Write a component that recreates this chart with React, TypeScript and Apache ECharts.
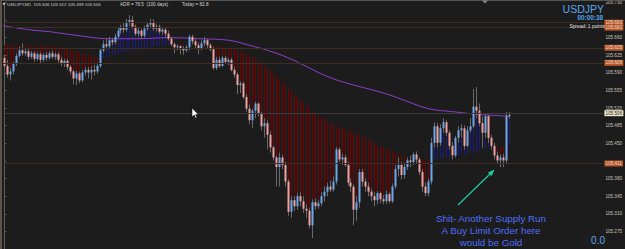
import React, { useEffect, useRef } from "react";
import * as echarts from "echarts";

// ---- M1 USDJPY bars (index 0 = oldest) ----
const opens = [
  105.620, 105.604, 105.587, 105.593, 105.608, 105.624, 105.635, 105.629, 105.633, 105.622,
  105.629, 105.618, 105.627, 105.616, 105.626, 105.620, 105.629, 105.622, 105.627, 105.616,
  105.608, 105.614, 105.602, 105.593, 105.579, 105.589, 105.575, 105.591, 105.596, 105.591,
  105.596, 105.593, 105.604, 105.635, 105.647, 105.643, 105.655, 105.651, 105.662, 105.674,
  105.680, 105.676, 105.689, 105.695, 105.682, 105.668, 105.674, 105.664, 105.678, 105.686,
  105.691, 105.678, 105.682, 105.672, 105.676, 105.668, 105.658, 105.647, 105.641, 105.643,
  105.639, 105.635, 105.641, 105.662, 105.653, 105.645, 105.639, 105.649, 105.655, 105.645,
  105.637, 105.600, 105.616, 105.604, 105.620, 105.612, 105.616, 105.596, 105.587, 105.566,
  105.569, 105.542, 105.519, 105.496, 105.515, 105.529, 105.509, 105.484, 105.490, 105.467,
  105.442, 105.422, 105.403, 105.422, 105.407, 105.374, 105.314, 105.337, 105.325, 105.345,
  105.335, 105.320, 105.316, 105.287, 105.333, 105.325, 105.331, 105.345, 105.354, 105.364,
  105.358, 105.374, 105.438, 105.418, 105.422, 105.407, 105.372, 105.364, 105.318, 105.333,
  105.393, 105.374, 105.364, 105.354, 105.345, 105.337, 105.351, 105.339, 105.335, 105.349,
  105.335, 105.364, 105.399, 105.407, 105.387, 105.403, 105.416, 105.413, 105.428, 105.418,
  105.393, 105.364, 105.351, 105.374, 105.451, 105.484, 105.451, 105.480, 105.492, 105.471,
  105.445, 105.426, 105.461, 105.476, 105.480, 105.445, 105.476, 105.484, 105.523, 105.515,
  105.490, 105.471, 105.504, 105.461, 105.445, 105.426, 105.416, 105.422, 105.416, 105.506,
];

const closes = [
  105.604, 105.587, 105.593, 105.608, 105.624, 105.635, 105.629, 105.633, 105.622, 105.629,
  105.618, 105.627, 105.616, 105.626, 105.620, 105.629, 105.622, 105.627, 105.616, 105.608,
  105.614, 105.602, 105.593, 105.579, 105.589, 105.575, 105.591, 105.596, 105.591, 105.596,
  105.593, 105.604, 105.635, 105.647, 105.643, 105.655, 105.651, 105.662, 105.674, 105.680,
  105.676, 105.689, 105.695, 105.682, 105.668, 105.674, 105.664, 105.678, 105.686, 105.691,
  105.678, 105.682, 105.672, 105.676, 105.668, 105.658, 105.647, 105.641, 105.643, 105.639,
  105.635, 105.641, 105.662, 105.653, 105.645, 105.639, 105.649, 105.655, 105.645, 105.637,
  105.600, 105.616, 105.604, 105.620, 105.612, 105.616, 105.596, 105.587, 105.566, 105.569,
  105.542, 105.519, 105.496, 105.515, 105.529, 105.509, 105.484, 105.490, 105.467, 105.442,
  105.422, 105.403, 105.422, 105.407, 105.374, 105.314, 105.337, 105.325, 105.345, 105.335,
  105.320, 105.316, 105.287, 105.333, 105.325, 105.331, 105.345, 105.354, 105.364, 105.358,
  105.374, 105.438, 105.418, 105.422, 105.407, 105.372, 105.364, 105.318, 105.333, 105.393,
  105.374, 105.364, 105.354, 105.345, 105.337, 105.351, 105.339, 105.335, 105.349, 105.335,
  105.364, 105.399, 105.407, 105.387, 105.403, 105.416, 105.413, 105.428, 105.418, 105.393,
  105.364, 105.351, 105.374, 105.451, 105.484, 105.451, 105.480, 105.492, 105.471, 105.445,
  105.426, 105.461, 105.476, 105.480, 105.445, 105.476, 105.484, 105.523, 105.515, 105.490,
  105.471, 105.504, 105.461, 105.445, 105.426, 105.416, 105.422, 105.416, 105.505, 105.506,
];

const highs = [
  105.626, 105.616, 105.600, 105.612, 105.629, 105.643, 105.649, 105.639, 105.637, 105.633,
  105.633, 105.631, 105.631, 105.629, 105.631, 105.633, 105.635, 105.631, 105.631, 105.622,
  105.618, 105.618, 105.606, 105.596, 105.595, 105.593, 105.596, 105.602, 105.602, 105.604,
  105.606, 105.610, 105.639, 105.655, 105.658, 105.662, 105.660, 105.668, 105.680, 105.686,
  105.689, 105.697, 105.705, 105.703, 105.686, 105.680, 105.678, 105.684, 105.691, 105.697,
  105.697, 105.687, 105.686, 105.680, 105.680, 105.674, 105.662, 105.651, 105.647, 105.645,
  105.643, 105.645, 105.666, 105.666, 105.657, 105.651, 105.655, 105.662, 105.658, 105.649,
  105.641, 105.622, 105.622, 105.624, 105.624, 105.620, 105.620, 105.602, 105.591, 105.573,
  105.573, 105.548, 105.527, 105.519, 105.533, 105.531, 105.513, 105.500, 105.496, 105.474,
  105.445, 105.426, 105.432, 105.428, 105.413, 105.378, 105.345, 105.345, 105.351, 105.353,
  105.345, 105.329, 105.322, 105.339, 105.341, 105.337, 105.353, 105.364, 105.372, 105.376,
  105.384, 105.443, 105.442, 105.430, 105.428, 105.413, 105.380, 105.368, 105.345, 105.399,
  105.399, 105.380, 105.372, 105.360, 105.353, 105.356, 105.354, 105.347, 105.356, 105.353,
  105.370, 105.407, 105.422, 105.413, 105.411, 105.422, 105.426, 105.432, 105.434, 105.422,
  105.399, 105.372, 105.380, 105.461, 105.492, 105.490, 105.488, 105.500, 105.496, 105.476,
  105.453, 105.465, 105.484, 105.488, 105.486, 105.484, 105.500, 105.558, 105.562, 105.529,
  105.504, 105.509, 105.507, 105.467, 105.451, 105.434, 105.428, 105.430, 105.513, 105.512,
];

const lows = [
  105.600, 105.581, 105.575, 105.587, 105.604, 105.620, 105.624, 105.624, 105.616, 105.618,
  105.612, 105.614, 105.608, 105.612, 105.614, 105.616, 105.618, 105.616, 105.610, 105.604,
  105.602, 105.596, 105.587, 105.567, 105.566, 105.569, 105.571, 105.585, 105.579, 105.577,
  105.585, 105.589, 105.600, 105.631, 105.639, 105.639, 105.645, 105.647, 105.658, 105.668,
  105.670, 105.672, 105.684, 105.678, 105.664, 105.662, 105.658, 105.660, 105.674, 105.680,
  105.674, 105.672, 105.668, 105.666, 105.662, 105.655, 105.643, 105.629, 105.635, 105.627,
  105.626, 105.631, 105.635, 105.647, 105.639, 105.627, 105.635, 105.643, 105.639, 105.633,
  105.596, 105.596, 105.600, 105.602, 105.608, 105.606, 105.593, 105.581, 105.548, 105.550,
  105.538, 105.513, 105.488, 105.480, 105.500, 105.504, 105.476, 105.461, 105.438, 105.432,
  105.416, 105.364, 105.364, 105.399, 105.364, 105.306, 105.302, 105.316, 105.318, 105.325,
  105.312, 105.302, 105.281, 105.262, 105.318, 105.320, 105.325, 105.335, 105.345, 105.353,
  105.354, 105.368, 105.413, 105.407, 105.403, 105.366, 105.354, 105.287, 105.296, 105.322,
  105.364, 105.354, 105.345, 105.335, 105.325, 105.329, 105.331, 105.329, 105.329, 105.331,
  105.331, 105.360, 105.384, 105.378, 105.380, 105.397, 105.403, 105.407, 105.411, 105.387,
  105.354, 105.345, 105.345, 105.368, 105.442, 105.442, 105.445, 105.471, 105.465, 105.438,
  105.418, 105.422, 105.451, 105.461, 105.438, 105.442, 105.471, 105.480, 105.500, 105.484,
  105.442, 105.461, 105.451, 105.438, 105.418, 105.409, 105.403, 105.403, 105.411, 105.499,
];

// fast moving average (the histogram reference line)
const fastMA = [
  105.645, 105.645, 105.645, 105.645, 105.645, 105.645, 105.645, 105.645, 105.645, 105.643,
  105.643, 105.643, 105.643, 105.643, 105.643, 105.643, 105.643, 105.641, 105.641, 105.641,
  105.639, 105.637, 105.635, 105.635, 105.633, 105.631, 105.629, 105.627, 105.626, 105.624,
  105.622, 105.620, 105.618, 105.620, 105.622, 105.624, 105.626, 105.626, 105.627, 105.629,
  105.631, 105.631, 105.633, 105.635, 105.635, 105.637, 105.637, 105.639, 105.639, 105.641,
  105.641, 105.643, 105.643, 105.643, 105.645, 105.645, 105.645, 105.645, 105.647, 105.647,
  105.647, 105.647, 105.647, 105.647, 105.647, 105.647, 105.647, 105.645, 105.645, 105.645,
  105.643, 105.643, 105.643, 105.641, 105.641, 105.639, 105.639, 105.637, 105.635, 105.633,
  105.629, 105.627, 105.624, 105.622, 105.618, 105.614, 105.610, 105.604, 105.600, 105.595,
  105.589, 105.583, 105.577, 105.571, 105.566, 105.560, 105.554, 105.548, 105.542, 105.536,
  105.531, 105.525, 105.519, 105.513, 105.509, 105.505, 105.502, 105.498, 105.494, 105.490,
  105.488, 105.484, 105.482, 105.480, 105.478, 105.474, 105.473, 105.471, 105.469, 105.467,
  105.463, 105.461, 105.457, 105.453, 105.451, 105.447, 105.445, 105.442, 105.440, 105.438,
  105.434, 105.432, 105.428, 105.426, 105.424, 105.422, 105.420, 105.420, 105.418, 105.418,
  105.418, 105.418, 105.418, 105.418, 105.418, 105.420, 105.420, 105.420, 105.422, 105.422,
  105.424, 105.426, 105.426, 105.428, 105.428, 105.430, 105.432, 105.432, 105.434, 105.436,
  105.438, 105.438, 105.440, 105.442, 105.442, 105.443, 105.443, 105.443, 105.445, 105.445,
];

// slow moving average (purple), read at these bar positions
const slowMaBars = [-0.5, 8, 15, 25, 35, 45, 55, 65, 75, 82, 88, 95, 102, 108, 115, 122, 128, 135, 142, 150, 160, 169];
const slowMaValues = [
  105.684, 105.676, 105.672, 105.664, 105.658, 105.658, 105.660, 105.658, 105.655, 105.645, 105.635,
  105.620, 105.600, 105.583, 105.569, 105.558, 105.548, 105.533, 105.519, 105.513, 105.507, 105.504,
];

// horizontal price levels (orange tags) and the current bid
const levelPrices = [105.693, 105.682, 105.635, 105.606, 105.411];
const bidPrice = 105.506;

const BLUE = "#6ea6ec";
const PINK = "#f2a0a0";
const WICK = "#6a6a6a";
const FONT = "Liberation Sans, Arial, sans-serif";

export default function App() {
  const ref = useRef<HTMLDivElement>(null);

  useEffect(() => {
    if (!ref.current) return;
    const chart = echarts.init(ref.current, null, { renderer: "svg" });

    const candleData = opens.map((o, i) => [i, o, closes[i], lows[i], highs[i]]);
    const histData = closes.map((c, i) => [i, c, fastMA[i]]);
    const slowData = slowMaBars.map((b, i) => [b, slowMaValues[i]]);
    const last = opens.length - 1;
    const tagged = [...levelPrices, bidPrice];

    const levelLine = (v: number) => ({
      yAxis: v,
      lineStyle: { color: "#3e2e23", width: 1, type: "solid" },
      label: {
        show: true,
        position: "end",
        distance: 1,
        formatter: v.toFixed(3),
        backgroundColor: "#b5562a",
        color: "#f3dccb",
        fontSize: 4.6,
        fontFamily: FONT,
        padding: [0.6, 1.2, 0.4, 1.2],
      },
    });

    const option: any = {
      animation: false,
      backgroundColor: "#1c1c1c",
      grid: { left: 3, right: 19, top: 1, bottom: -5, containLabel: false },
      xAxis: { type: "value", min: -0.5, max: 200.5, show: false },
      yAxis: {
        type: "value",
        position: "right",
        min: 105.24,
        max: 105.73,
        interval: 0.035,
        scale: true,
        splitLine: { show: false },
        axisLine: { show: true, lineStyle: { color: "#5e5e5e", width: 1 } },
        axisTick: { show: true, length: 2, lineStyle: { color: "#5e5e5e" } },
        axisLabel: {
          show: true,
          margin: 2,
          fontSize: 4.6,
          color: "#c9c4bb",
          fontFamily: FONT,
          showMinLabel: false,
          // labels hidden where a price tag sits on top of them
          formatter: (v: number) =>
            tagged.some((t) => Math.abs(t - v) < 0.0065) ? "" : v.toFixed(3),
        },
      },
      series: [
        {
          type: "line",
          name: "levels",
          data: [],
          z: 1,
          markLine: {
            silent: true,
            symbol: ["none", "none"],
            animation: false,
            data: [
              ...levelPrices.map(levelLine),
              {
                yAxis: bidPrice,
                lineStyle: { color: "#3c3c3c", width: 1, type: "solid" },
                label: {
                  show: true,
                  position: "end",
                  distance: 1,
                  formatter: bidPrice.toFixed(3),
                  backgroundColor: "#f2e8cc",
                  color: "#111111",
                  fontSize: 4.6,
                  fontFamily: FONT,
                  padding: [0.6, 1.2, 0.4, 1.2],
                },
              },
            ],
          },
        },
        {
          type: "custom",
          name: "hist",
          z: 2,
          data: histData,
          encode: { x: 0, y: [1, 2] },
          renderItem: (_p: any, api: any) => {
            const i = api.value(0);
            const c = api.value(1);
            const m = api.value(2);
            const pc = api.coord([i, c]);
            const pm = api.coord([i, m]);
            const px = Math.floor(pc[0]);
            const y1 = Math.min(pc[1], pm[1]);
            const h = Math.abs(pc[1] - pm[1]);
            return {
              type: "rect",
              shape: { x: px, y: y1, width: 1, height: h },
              style: { fill: c >= m ? "#1b1b80" : "#780000" },
            };
          },
        },
        {
          type: "line",
          name: "slow",
          z: 3,
          data: slowData,
          smooth: 0.4,
          showSymbol: false,
          symbol: "none",
          lineStyle: { color: "#8f3ccb", width: 1 },
        },
        {
          type: "custom",
          name: "candles",
          z: 4,
          data: candleData,
          encode: { x: 0, y: [1, 2, 3, 4] },
          renderItem: (_p: any, api: any) => {
            const i = api.value(0);
            const o = api.value(1);
            const c = api.value(2);
            const l = api.value(3);
            const h = api.value(4);
            const pO = api.coord([i, o]);
            const pC = api.coord([i, c]);
            const pL = api.coord([i, l]);
            const pH = api.coord([i, h]);
            const px = Math.floor(pO[0]);
            const top = Math.min(pO[1], pC[1]);
            const bot = Math.max(pO[1], pC[1]);
            const col = c > o ? BLUE : c < o ? PINK : "#bbbbbb";
            return {
              type: "group",
              children: [
                {
                  type: "rect",
                  shape: { x: px, y: pH[1], width: 1, height: Math.max(1, pL[1] - pH[1]) },
                  style: { fill: WICK },
                },
                {
                  type: "rect",
                  shape: { x: px - 0.5, y: top, width: 2, height: Math.max(1, bot - top) },
                  style: { fill: col },
                },
              ],
            };
          },
        },
      ],
      graphic: [
        { type: "rect", left: 0, top: 0, shape: { width: 625, height: 1 }, style: { fill: "#555555" }, z: 10 },
        { type: "rect", left: 0, top: 0, shape: { width: 2, height: 249 }, style: { fill: "#5c534b" }, z: 10 },
        { type: "polygon", shape: { points: [[482, 0.5], [488, 0.5], [485, 3.5]] }, style: { fill: "#8a8a8a" }, z: 10 },
        { type: "polygon", shape: { points: [[2.5, 3], [5.5, 3], [4, 5.5]] }, style: { fill: "#d0d0d0" }, z: 10 },
        {
          type: "text",
          x: 7,
          y: 2.2,
          z: 10,
          style: {
            text: `USDJPY,M1  ${opens[last].toFixed(3)} ${highs[last].toFixed(3)} ${lows[last].toFixed(3)} ${closes[last].toFixed(3)}`,
            fill: "#d4d4d4",
            fontSize: 4.4,
            fontFamily: FONT,
          },
        },
        {
          type: "text",
          x: 120,
          y: 2.2,
          z: 10,
          style: { text: "ADR = 78.5  (100 days)", fill: "#d4d4d4", fontSize: 4.6, fontFamily: FONT },
        },
        {
          type: "text",
          x: 182,
          y: 2.2,
          z: 10,
          style: { text: "Today = 82.8", fill: "#d4d4d4", fontSize: 4.6, fontFamily: FONT },
        },
        {
          type: "text",
          x: 604,
          y: 3.5,
          z: 10,
          style: { text: "USDJPY", fill: "#5aa8f0", fontSize: 10.5, textAlign: "right", fontFamily: FONT },
        },
        {
          type: "text",
          x: 603,
          y: 14.5,
          z: 10,
          style: { text: "00:00:38", fill: "#4fa2ec", fontSize: 6.4, fontWeight: "bold", textAlign: "right", fontFamily: FONT },
        },
        {
          type: "text",
          x: 605,
          y: 23.5,
          z: 10,
          style: { text: "Spread: 1 points", fill: "#e2e2e2", fontSize: 4.9, textAlign: "right", fontFamily: FONT },
        },
        {
          type: "text",
          x: 605,
          y: 235,
          z: 10,
          style: { text: "0.0", fill: "#5aa8f0", fontSize: 10, textAlign: "right", fontFamily: FONT },
        },
        {
          type: "text",
          x: 491,
          y: 212.5,
          z: 10,
          style: {
            text: "Shit- Another Supply Run\nA Buy Limit Order here\nwould be Gold",
            fill: "#4f6ef7",
            fontSize: 9.8,
            lineHeight: 12,
            textAlign: "center",
            fontFamily: FONT,
          },
        },
        {
          type: "line",
          z: 10,
          shape: { x1: 458, y1: 205, x2: 491, y2: 173 },
          style: { stroke: "#1fc8a0", lineWidth: 1.3 },
        },
        {
          type: "polygon",
          z: 10,
          shape: { points: [[494.5, 169.5], [491.6, 176.2], [487.9, 172.4]] },
          style: { fill: "#1fc8a0" },
        },
        {
          type: "polygon",
          z: 10,
          shape: {
            points: [[192, 108], [192, 117], [194.2, 115], [195.6, 118.3], [196.9, 117.7], [195.6, 114.6], [198.4, 114.6]],
          },
          style: { fill: "#ffffff", stroke: "#000000", lineWidth: 0.5 },
        },
      ],
    };

    chart.setOption(option);
    return () => chart.dispose();
  }, []);

  return (
    <div
      ref={ref}
      style={{ position: "absolute", left: 0, top: 0, width: 625, height: 249 }}
    />
  );
}
